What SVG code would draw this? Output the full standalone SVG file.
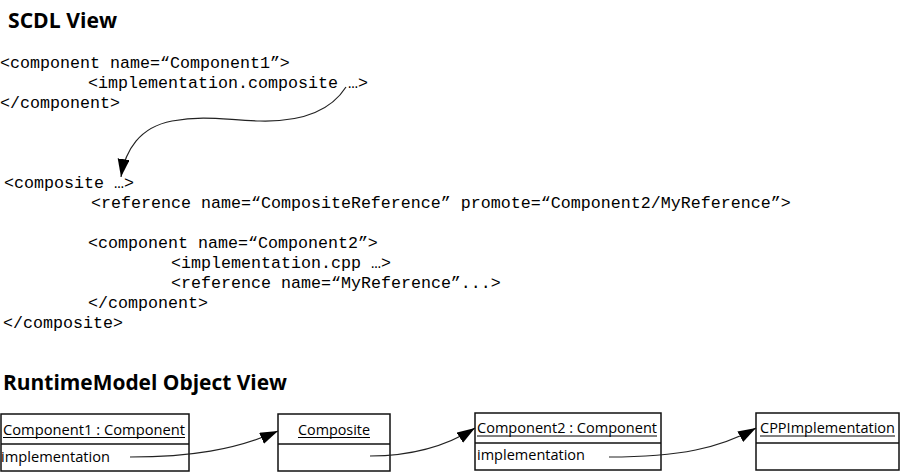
<svg xmlns="http://www.w3.org/2000/svg" width="901" height="473" viewBox="0 0 901 473">
  <style>
    .h { font-family: "Open Sans", "Liberation Sans", sans-serif; font-weight: bold; font-size: 22px; fill: #000; }
    .code { font-family: "Liberation Mono", "Courier New", monospace; font-size: 16.67px; fill: #000; white-space: pre; }
    .lbl { font-family: "Open Sans", "DejaVu Sans", sans-serif; font-size: 14px; fill: #000; }
    .box { fill: #fff; stroke: #111; stroke-width: 1.5; }
    .div { stroke: #111; stroke-width: 1.5; }
    .ul { stroke: #000; stroke-width: 1; }
    .conn { fill: none; stroke: #222; stroke-width: 1.2; }
  </style>
  <defs>
    <marker id="arrow" markerUnits="userSpaceOnUse" markerWidth="20" markerHeight="14" refX="18" refY="6" orient="auto">
      <polygon points="0,0 18,6 0,12" fill="#000"/>
    </marker>
  </defs>

  <text class="h" x="8" y="28" textLength="109" lengthAdjust="spacingAndGlyphs">SCDL View</text>

  <g id="scdl-code">
    <text class="code" x="0" y="68">&lt;component name=“Component1”&gt;</text>
    <text class="code" x="88" y="88">&lt;implementation.composite …&gt;</text>
    <text class="code" x="0" y="108">&lt;/component&gt;</text>
    <text class="code" x="4" y="188">&lt;composite …&gt;</text>
    <text class="code" x="91" y="208">&lt;reference name=“CompositeReference” promote=“Component2/MyReference”&gt;</text>
    <text class="code" x="88" y="248">&lt;component name=“Component2”&gt;</text>
    <text class="code" x="171" y="268">&lt;implementation.cpp …&gt;</text>
    <text class="code" x="171" y="288">&lt;reference name=“MyReference”...&gt;</text>
    <text class="code" x="88" y="308">&lt;/component&gt;</text>
    <text class="code" x="3" y="328">&lt;/composite&gt;</text>
  </g>

  <text class="h" x="3" y="390" textLength="284" lengthAdjust="spacingAndGlyphs">RuntimeModel Object View</text>

  <g id="component1">
    <rect class="box" x="1" y="414" width="188" height="57"/>
    <line class="div" x1="1" y1="444" x2="189" y2="444"/>
    <text class="lbl" x="3" y="435" textLength="182" lengthAdjust="spacingAndGlyphs">Component1 : Component</text>
    <line class="ul" x1="3" y1="437.5" x2="185" y2="437.5"/>
    <text class="lbl" x="1" y="462" textLength="109" lengthAdjust="spacingAndGlyphs">implementation</text>
  </g>

  <g id="composite">
    <rect class="box" x="278" y="414" width="112" height="57"/>
    <line class="div" x1="278" y1="444" x2="390" y2="444"/>
    <text class="lbl" x="298" y="435" textLength="72" lengthAdjust="spacingAndGlyphs">Composite</text>
    <line class="ul" x1="298" y1="437.5" x2="370" y2="437.5"/>
  </g>

  <g id="component2">
    <rect class="box" x="475" y="413" width="186" height="57"/>
    <line class="div" x1="475" y1="443" x2="661" y2="443"/>
    <text class="lbl" x="477" y="433" textLength="180" lengthAdjust="spacingAndGlyphs">Component2 : Component</text>
    <line class="ul" x1="477" y1="436" x2="657" y2="436"/>
    <text class="lbl" x="477" y="460" textLength="108" lengthAdjust="spacingAndGlyphs">implementation</text>
  </g>

  <g id="cppimplementation">
    <rect class="box" x="756" y="413" width="143" height="57"/>
    <line class="div" x1="756" y1="443" x2="899" y2="443"/>
    <text class="lbl" x="760" y="433" textLength="135" lengthAdjust="spacingAndGlyphs">CPPImplementation</text>
    <line class="ul" x1="760" y1="436" x2="895" y2="436"/>
  </g>

  <g id="connectors">
    <path class="conn" d="M346,87 C330,112 300,122 260,121 C225,120 205,115 172,121 C140,127 125,150 121,177" marker-end="url(#arrow)"/>
    <path class="conn" d="M130,457 C190,457 235,450 278,431" marker-end="url(#arrow)"/>
    <path class="conn" d="M370,456 C410,456 445,447 475,428" marker-end="url(#arrow)"/>
    <path class="conn" d="M609,457 C680,457 720,448 756,428" marker-end="url(#arrow)"/>
  </g>
</svg>
